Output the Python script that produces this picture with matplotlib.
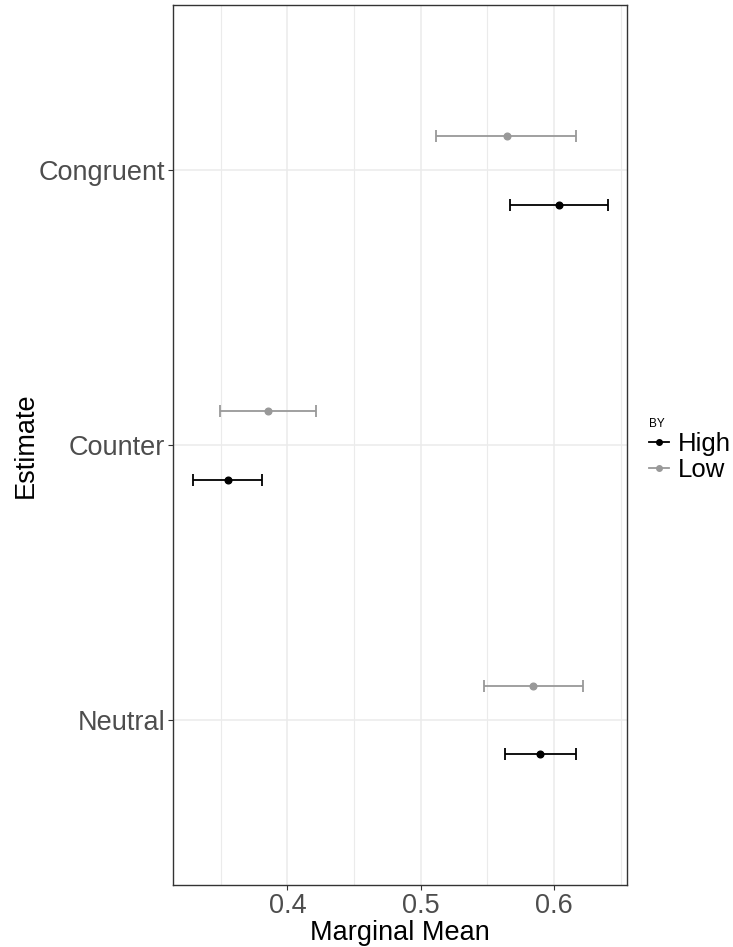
import matplotlib
matplotlib.use("Agg")
import matplotlib.pyplot as plt
from matplotlib.lines import Line2D
from matplotlib.ticker import MultipleLocator

plt.rcParams['font.family'] = ['Liberation Sans', 'DejaVu Sans']

# Marginal means with confidence limits, by estimate and group
estimates = ["Neutral", "Counter", "Congruent"]
groups = ["High", "Low"]
colors = {"High": "#000000", "Low": "#999999"}

means = {
    "High": [0.5895, 0.3553, 0.6040],
    "Low":  [0.5845, 0.3855, 0.5650],
}
lower = {
    "High": [0.5632, 0.3295, 0.5670],
    "Low":  [0.5475, 0.3495, 0.5115],
}
upper = {
    "High": [0.6162, 0.3810, 0.6406],
    "Low":  [0.6215, 0.4217, 0.6168],
}
dodge = {"High": -0.125, "Low": 0.125}

fig = plt.figure(figsize=(7.33, 9.47), dpi=100)
ax = fig.add_axes([0.2356, 0.0655, 0.6198, 0.9287])

for g in groups:
    ys = [i + 1 + dodge[g] for i in range(len(estimates))]
    m = means[g]
    err = [[mm - lo for mm, lo in zip(m, lower[g])],
           [hi - mm for mm, hi in zip(m, upper[g])]]
    ax.errorbar(m, ys, xerr=err, fmt='o', color=colors[g], ms=4.8,
                elinewidth=1.3, capsize=4.4, capthick=1.3, zorder=3)

ax.set_xlim(0.314, 0.6547)
ax.set_ylim(0.4, 3.6)
ax.set_yticks([1, 2, 3])
ax.set_yticklabels(estimates)
ax.xaxis.set_major_locator(MultipleLocator(0.1))
ax.xaxis.set_minor_locator(MultipleLocator(0.05))
ax.set_xticks([0.4, 0.5, 0.6])
ax.set_xticklabels(["0.4", "0.5", "0.6"])

ax.grid(True, which='major', color='#EBEBEB', linewidth=1.1, zorder=0)
ax.grid(True, which='minor', axis='x', color='#EBEBEB', linewidth=0.8, zorder=0)
ax.set_axisbelow(True)
ax.tick_params(axis='both', which='major', labelsize=19.5, labelcolor='#4D4D4D',
               color='#333333', length=3.5, width=0.8)
ax.tick_params(axis='x', which='minor', length=0)
ax.tick_params(axis='x', pad=2)
ax.tick_params(axis='y', pad=2)
for s in ax.spines.values():
    s.set_color('#333333')
    s.set_linewidth(1.0)

ax.set_xlabel("Marginal Mean", fontsize=19.5, labelpad=1)
ax.set_ylabel("Estimate", fontsize=19.5, labelpad=0)

handles = [Line2D([0], [0], color=colors[g], marker='o', ms=4.0, lw=1.3)
           for g in groups]
leg = fig.legend(handles, groups, title="BY", loc='upper left',
                 bbox_to_anchor=(0.879, 0.564), frameon=False,
                 fontsize=18.5, title_fontsize=8.5, handlelength=0.75,
                 handletextpad=0.35, labelspacing=0.08, borderpad=0.2,
                 borderaxespad=0.0)
leg._legend_box.align = "left"

fig.savefig("out.png", dpi=100)
